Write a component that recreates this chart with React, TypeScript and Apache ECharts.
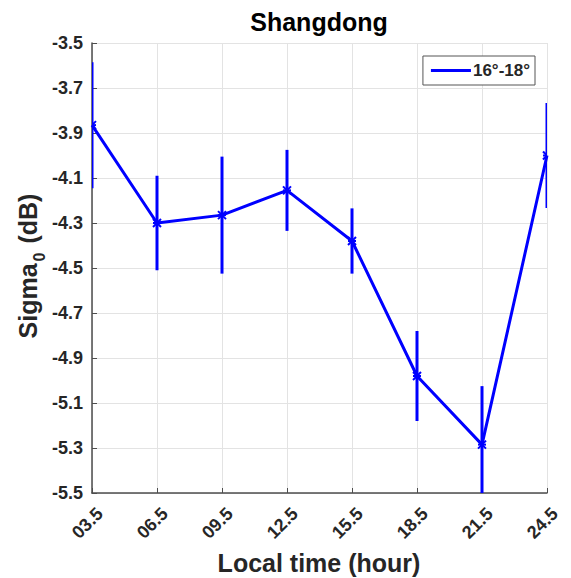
import React, { useEffect, useRef } from "react";
import * as echarts from "echarts";

const title = "Shangdong";
const categories = ["03.5", "06.5", "09.5", "12.5", "15.5", "18.5", "21.5", "24.5"];
const means = [-3.865, -4.3, -4.265, -4.155, -4.38, -4.98, -5.285, -4.0];
const errors = [0.28, 0.21, 0.26, 0.18, 0.145, 0.2, 0.26, 0.233];
const seriesName = "16°-18°";
const yMin = -5.5;
const yMax = -3.5;
const yStep = 0.2;

const TEXT = "#262626";
const FONT = "Liberation Sans, Arial, sans-serif";

export default function App() {
  const ref = useRef<HTMLDivElement>(null);
  useEffect(() => {
    if (!ref.current) return;
    const chart = echarts.init(ref.current, undefined, { renderer: "svg" });
    // shift so that tick counting starts at 0 (a multiple of the step)
    const shift = (v: number) => v - yMin;
    const lineData = means.map((m, i) => [categories[i], shift(m)]);
    const errData = means.map((m, i) => [i, shift(m - errors[i]), shift(m + errors[i]), shift(m)]);
    chart.setOption({
      animation: false,
      backgroundColor: "#ffffff",
      textStyle: { fontFamily: FONT },
      grid: { left: 92, right: 24, top: 43, bottom: 85, containLabel: false },
      legend: {
        data: [{ name: seriesName, icon: "rect" }],
        right: 36,
        top: 56,
        itemWidth: 40,
        itemHeight: 3,
        itemGap: 4,
        padding: [6, 5, 6, 8],
        borderColor: "#555555",
        borderWidth: 1,
        backgroundColor: "#ffffff",
        textStyle: { fontFamily: FONT, fontSize: 17, fontWeight: "bold", color: TEXT, padding: [0, 0, 0, -3] },
      },
      xAxis: {
        type: "category",
        data: categories,
        boundaryGap: false,
        axisLine: { show: true, lineStyle: { color: "#4d4d4d", width: 1.5 } },
        axisTick: { show: true, inside: true, length: 5, alignWithLabel: true, lineStyle: { color: "#4d4d4d" } },
        axisLabel: {
          rotate: 45,
          fontFamily: FONT,
          fontSize: 18,
          fontWeight: "bold",
          color: TEXT,
          margin: 10,
          lineHeight: 22,
          interval: 0,
          formatter: (v: string) => " \n" + v,
        },
        splitLine: { show: true, lineStyle: { color: "#e3e3e3", width: 1 } },
      },
      yAxis: {
        type: "value",
        min: 0,
        max: yMax - yMin,
        interval: yStep,
        axisLine: { show: true, lineStyle: { color: "#4d4d4d", width: 1.5 } },
        axisTick: { show: true, inside: true, length: 5, lineStyle: { color: "#4d4d4d" } },
        axisLabel: {
          fontFamily: FONT,
          fontSize: 18,
          fontWeight: "bold",
          color: TEXT,
          margin: 9,
          formatter: (v: number) => (v + yMin).toFixed(1),
        },
        splitLine: { show: true, lineStyle: { color: "#e3e3e3", width: 1 } },
      },
      graphic: [
        {
          type: "text",
          x: 319,
          y: 22,
          style: {
            text: title,
            fontFamily: FONT,
            fontSize: 25,
            fontWeight: "bold",
            fill: "#000000",
            align: "center",
            verticalAlign: "middle",
          },
        },
        {
          type: "text",
          x: 319,
          y: 563,
          style: {
            text: "Local time (hour)",
            fontFamily: FONT,
            fontSize: 25,
            fontWeight: "bold",
            fill: TEXT,
            align: "center",
            verticalAlign: "middle",
          },
        },
        {
          type: "text",
          x: 28,
          y: 266,
          rotation: Math.PI / 2,
          style: {
            text: "{a|Sigma}{s|0}{a| (dB)}",
            fontFamily: FONT,
            align: "center",
            verticalAlign: "middle",
            rich: {
              a: { fontFamily: FONT, fontSize: 25, fontWeight: "bold", fill: TEXT, lineHeight: 38, verticalAlign: "middle" },
              s: { fontFamily: FONT, fontSize: 16, fontWeight: "bold", fill: TEXT, lineHeight: 38, verticalAlign: "bottom", padding: [0, 2, 0, 2] },
            },
          },
        },
      ],
      series: [
        {
          name: seriesName,
          type: "line",
          data: lineData,
          color: "#0000ff",
          lineStyle: { color: "#0000ff", width: 3 },
          showSymbol: false,
          symbol: "none",
          z: 3,
        },
        {
          name: "errorbars",
          type: "custom",
          data: errData,
          clip: true,
          z: 4,
          renderItem: (params: any, api: any) => {
            const idx = api.value(0);
            const lo = api.coord([idx, api.value(1)]);
            const hi = api.coord([idx, api.value(2)]);
            const mid = api.coord([idx, api.value(3)]);
            const s = 4;
            const style = { stroke: "#0000ff", lineWidth: 3, fill: "none" };
            return {
              type: "group",
              children: [
                { type: "line", shape: { x1: lo[0], y1: lo[1], x2: hi[0], y2: hi[1] }, style },
                { type: "line", shape: { x1: mid[0] - s, y1: mid[1] - s, x2: mid[0] + s, y2: mid[1] + s }, style: { stroke: "#0000ff", lineWidth: 2 } },
                { type: "line", shape: { x1: mid[0] - s, y1: mid[1] + s, x2: mid[0] + s, y2: mid[1] - s }, style: { stroke: "#0000ff", lineWidth: 2 } },
                { type: "line", shape: { x1: mid[0] - s, y1: mid[1], x2: mid[0] + s, y2: mid[1] }, style: { stroke: "#0000ff", lineWidth: 2 } },
              ],
            };
          },
        },
      ],
    });
    return () => chart.dispose();
  }, []);
  return <div ref={ref} style={{ width: 571, height: 578, position: "absolute", left: 0, top: 0 }} />;
}
